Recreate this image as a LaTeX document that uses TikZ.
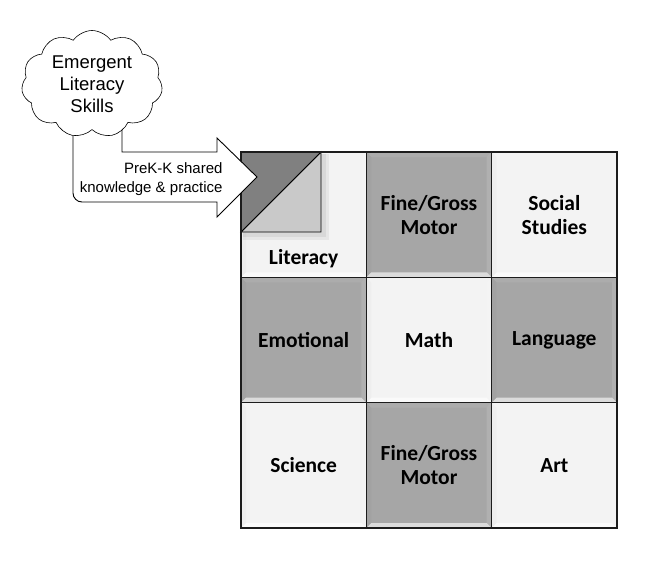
\documentclass[tikz,border=0pt]{standalone}
\usepackage{fontspec}
\setmainfont{Liberation Sans}
\newfontfamily\cellfont{Carlito}
\usetikzlibrary{shapes.symbols}
\definecolor{celllight}{RGB}{243,243,243}
\definecolor{cellgrey}{RGB}{166,166,166}
\definecolor{cornerdark}{RGB}{128,128,128}
\definecolor{cornerlight}{RGB}{201,201,201}
\definecolor{gridline}{RGB}{28,28,28}

\begin{document}
\begin{tikzpicture}[x=1pt, y=-1pt,
        cell/.style={rectangle, minimum width=125.33pt, minimum height=125.33pt,
                     inner sep=0pt, outer sep=0pt, align=center,
                     font=\cellfont\bfseries\fontsize{21.5}{24}\selectfont},
        cellline/.style={draw=gridline, line width=1.3pt},
        cloudbox/.style={cloud, cloud puffs=11, cloud puff arc=110, aspect=1.3,
                     draw, fill=white, line width=.6pt, inner sep=0pt,
                     minimum width=141pt, minimum height=107pt, align=center,
                     font=\fontsize{18.5}{22}\selectfont},
        blockarrow/.style={draw, fill=white, line width=.9pt, line join=miter}
    ]
        \useasboundingbox (0,0) rectangle (667,560);
        \foreach \n/\cx/\ry/\fc/\txt in {
            lit/0/0/celllight/{},
            fgma/1/0/cellgrey/{Fine/Gross\\Motor},
            soc/2/0/celllight/{Social\\Studies},
            emo/0/1/cellgrey/{Emotional},
            math/1/1/celllight/{Math},
            lang/2/1/cellgrey/{Language},
            sci/0/2/celllight/{Science},
            fgmb/1/2/cellgrey/{Fine/Gross\\Motor},
            art/2/2/celllight/{Art}}
        {
            \node[cell, fill=\fc] (\n) at (303.67+125.33*\cx, 214.67+125.33*\ry) {\txt};
            % bevel
            \fill[white, opacity=.6] (\n.south west) -- (\n.south east) -- ([shift={(-5,-5)}]\n.south east) -- ([shift={(5,-5)}]\n.south west) -- cycle;
            \fill[white, opacity=.08] (\n.north west) -- (\n.north east) -- ([shift={(-5,5)}]\n.north east) -- ([shift={(5,5)}]\n.north west) -- cycle;
            \fill[black, opacity=.02] (\n.north west) -- (\n.south west) -- ([shift={(5,-5)}]\n.south west) -- ([shift={(5,5)}]\n.north west) -- cycle;
            \fill[white, opacity=.12] (\n.north east) -- (\n.south east) -- ([shift={(-5,-5)}]\n.south east) -- ([shift={(-5,5)}]\n.north east) -- cycle;
        }
        \node[cell, minimum height=0pt, anchor=base] (littxt) at ([shift={(0,-13)}]lit.south) {Literacy};

        % folded corner
        \fill[black, opacity=.05] ([shift={(2,2)}]lit.north west) rectangle ++(86,86);
        \fill[black, opacity=.06] ([shift={(2,2)}]lit.north west) rectangle ++(83,83);
        \filldraw[fill=cornerlight, draw=black, line width=.9pt] ([shift={(80,0)}]lit.north west) -- ([shift={(80,80)}]lit.north west) -- ([shift={(0,80)}]lit.north west) -- cycle;
        \filldraw[fill=cornerdark, draw=black, line width=.9pt] (lit.north west) -- ([shift={(80,0)}]lit.north west) -- ([shift={(0,80)}]lit.north west) -- cycle;

        \foreach \n in {lit, fgma, soc, emo, math, lang, sci, fgmb, art}
            \draw[cellline] (\n.north west) rectangle (\n.south east);

        % arrow out of the cloud
        \draw[blockarrow] (73,120) [rounded corners=9] -- (73,202) [sharp corners] -- (217,202) -- (217,217) -- (257,177) -- (217,138) -- (217,152) -- (122,152) -- (122,120) -- cycle;
        \node[font=\fontsize{15}{18.5}\selectfont, align=right, anchor=east] (shared) at (226,179) {PreK-K shared\\knowledge \& practice};
        \node[cloudbox] (skills) at (92,84) {Emergent\\Literacy\\Skills};
    \end{tikzpicture}
\end{document}
